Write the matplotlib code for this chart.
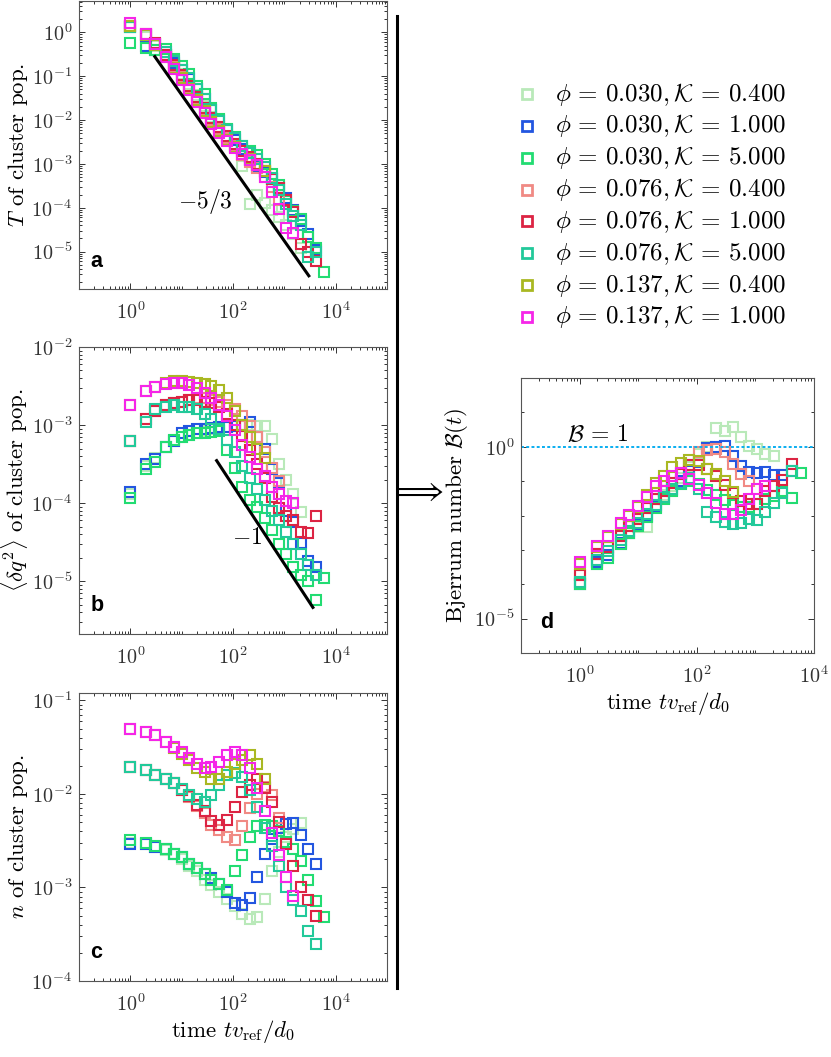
import matplotlib
matplotlib.use("Agg")
import matplotlib.pyplot as plt
import numpy as np
from matplotlib.lines import Line2D
from matplotlib.ticker import FixedLocator, LogLocator, NullFormatter

plt.rcParams['font.family'] = 'serif'
plt.rcParams['font.serif'] = ['cmr10']
plt.rcParams['mathtext.fontset'] = 'cm'
plt.rcParams['axes.formatter.use_mathtext'] = True

# time points (t v_ref / d0)
TIME = [1, 2, 3, 5, 7, 10, 14, 20, 28, 38, 54, 75, 107, 150, 210, 300, 415,
        570, 790, 1070, 1480, 2090, 2870, 4170, 5900]

labels = [r'$\phi\,=\,0.030,\mathcal{K}\,=\,0.400$',
          r'$\phi\,=\,0.030,\mathcal{K}\,=\,1.000$',
          r'$\phi\,=\,0.030,\mathcal{K}\,=\,5.000$',
          r'$\phi\,=\,0.076,\mathcal{K}\,=\,0.400$',
          r'$\phi\,=\,0.076,\mathcal{K}\,=\,1.000$',
          r'$\phi\,=\,0.076,\mathcal{K}\,=\,5.000$',
          r'$\phi\,=\,0.137,\mathcal{K}\,=\,0.400$',
          r'$\phi\,=\,0.137,\mathcal{K}\,=\,1.000$']
colors = ['#b9e9b9', '#2356e0', '#22dc72', '#f08a84', '#dc2443',
          '#22c99a', '#a9b822', '#f526e8']

# panel a: temperature T
T_vals = [
    [1.3, 0.8, 0.5, 0.3, 0.18, 0.11, 0.065, 0.038, 0.021, 0.012, 0.007, 0.0042,
     0.0026, 0.0009, 0.00012, 0.0002, 0.00013, 9e-5, 6e-5, 4e-5, 2.5e-5, 1.2e-5],
    [1.3, 0.5, 0.4, 0.3, 0.2, 0.14, 0.085, 0.05, 0.03, 0.017, 0.01, 0.006,
     0.0035, 0.0022, 0.0012, 0.00085, 0.00065, 0.00045, 0.00028, 0.00017, 9e-5,
     5e-5, 2.5e-5, 1.1e-5],
    [0.56, 0.45, 0.39, 0.41, 0.25, 0.17, 0.115, 0.06, 0.039, 0.019, 0.0105,
     0.0063, 0.0041, 0.0026, 0.002, 0.0016, 0.001, 0.0006, 0.00033, 0.00014,
     8.5e-5, 5.4e-5, 2.1e-5, 1.2e-5, 3.5e-6],
    [1.4, 0.85, 0.55, 0.3, 0.17, 0.1, 0.058, 0.032, 0.018, 0.01, 0.0062, 0.004,
     0.0026, 0.0016, 0.0011, 0.0008, 0.0005, 0.0003, 0.00015],
    [1.4, 0.9, 0.58, 0.31, 0.18, 0.105, 0.06, 0.034, 0.019, 0.011, 0.0068,
     0.0044, 0.0029, 0.002, 0.0014, 0.001, 0.0007, 0.00045, 0.00028, 0.00015,
     8e-5, 1.5e-5, 1e-5, 6.2e-6],
    [1.3, 0.85, 0.55, 0.36, 0.22, 0.14, 0.09, 0.052, 0.031, 0.017, 0.0095,
     0.0058, 0.0038, 0.0025, 0.0018, 0.0013, 0.00085, 0.00048, 0.00025, 0.00012,
     6.5e-5, 4e-5, 7.6e-6, 1.0e-5],
    [1.4, 0.85, 0.52, 0.28, 0.155, 0.09, 0.05, 0.028, 0.016, 0.009, 0.0056,
     0.0036, 0.0024, 0.0017, 0.0013, 0.00095, 0.0007],
    [1.6, 0.9, 0.54, 0.27, 0.145, 0.083, 0.048, 0.026, 0.0144, 0.0083, 0.0052,
     0.0034, 0.0023, 0.0017, 0.0012, 0.00093, 0.00051, 0.00023, 9.3e-5, 3.4e-5,
     2.7e-5],
]

# panel b: charge fluctuation <dq^2>
dq_vals = [
    [0.00013, 0.0003, 0.00038, 0.00052, 0.00062, 0.0007, 0.00075, 0.0008,
     0.00085, 0.0009, 0.00092, 0.00095, 0.00097, 0.00098, 0.001, 0.00097,
     0.00097, 0.00066, 0.00032, 0.0002, 0.00013, 7.6e-5],
    [0.00014, 0.00032, 0.00037, 0.00052, 0.00062, 0.0008, 0.00085, 0.00088,
     0.0009, 0.00092, 0.00095, 0.00095, 0.00098, 0.001, 0.0011, 0.0007,
     0.00049, 0.00027, 0.00018, 7.8e-5, 5.8e-5, 3.1e-5, 1.8e-5, 1.5e-5],
    [0.000115, 0.00027, 0.00034, 0.00053, 0.00064, 0.00071, 0.00075, 0.00078,
     0.0008, 0.00082, 0.00085, 0.00048, 0.00028, 0.00016, 0.00011, 9e-5,
     6.5e-5, 4.5e-5, 3e-5, 2.2e-5, 1.5e-5, 1.2e-5, 1e-5, 5.8e-6, 1.1e-5],
    [0.00063, 0.0012, 0.0015, 0.0018, 0.0019, 0.002, 0.0021, 0.0022, 0.0022,
     0.0021, 0.002, 0.0018, 0.0016, 0.0013, 0.00097, 0.0007, 0.00045, 0.00028,
     0.00019],
    [0.00063, 0.0012, 0.0015, 0.0018, 0.0019, 0.002, 0.0021, 0.0021, 0.002,
     0.0019, 0.0017, 0.0014, 0.001, 0.00072, 0.00048, 0.00032, 0.00021,
     0.00012, 8.6e-5, 6.8e-5, 6.1e-5, 4.3e-5, 4.1e-5, 6.8e-5],
    [0.00063, 0.0011, 0.0016, 0.0017, 0.0018, 0.0017, 0.0017, 0.0016, 0.0014,
     0.0012, 0.0009, 0.00065, 0.00045, 0.0003, 0.00021, 0.00015, 0.00011, 8e-5,
     6e-5, 4.2e-5, 3e-5, 2.2e-5, 1.6e-5, 1.2e-5],
    [0.0018, 0.0027, 0.0031, 0.0035, 0.0037, 0.0037, 0.0036, 0.0035, 0.0034,
     0.0032, 0.0028, 0.0022, 0.0015, 0.001, 0.00071, 0.0005, 0.00038],
    [0.0018, 0.0027, 0.0031, 0.0034, 0.0035, 0.0035, 0.0033, 0.003, 0.0026,
     0.0022, 0.0018, 0.0013, 0.00086, 0.00055, 0.00039, 0.00027, 0.00022,
     0.00016, 0.00013, 0.000105, 0.0001],
]

# panel c: cluster number density n
n_vals = [
    [0.003, 0.0029, 0.0027, 0.0025, 0.0023, 0.002, 0.0017, 0.0015, 0.0012,
     0.00105, 0.0009, 0.00075, 0.00063, 0.00052, 0.00046, 0.00048, 0.00075,
     0.0015, 0.0024, 0.0035, 0.0042, 0.0049],
    [0.0029, 0.0029, 0.0027, 0.0026, 0.0023, 0.0021, 0.0018, 0.0016, 0.0014,
     0.00125, 0.0011, 0.00089, 0.00068, 0.00065, 0.00077, 0.0013, 0.0023,
     0.0033, 0.0043, 0.0048, 0.0049, 0.0036, 0.0026, 0.0018],
    [0.0032, 0.003, 0.0028, 0.0026, 0.0023, 0.0021, 0.0018, 0.0016, 0.0014,
     0.0012, 0.0011, 0.00095, 0.0015, 0.0022, 0.0035, 0.0045, 0.0047, 0.0045,
     0.004, 0.0031, 0.0026, 0.0019, 0.0012, 0.00072, 0.00048],
    [0.0195, 0.018, 0.016, 0.0143, 0.013, 0.011, 0.0093, 0.0075, 0.0062,
     0.0047, 0.0041, 0.0035, 0.0032, 0.0045, 0.007, 0.01, 0.012, 0.0098,
     0.0055],
    [0.0195, 0.018, 0.016, 0.0143, 0.013, 0.011, 0.0095, 0.0076, 0.0065,
     0.0051, 0.0047, 0.0053, 0.0073, 0.0106, 0.0125, 0.0143, 0.0117, 0.0081,
     0.005, 0.0029, 0.0017, 0.001, 0.00074, 0.0005],
    [0.0195, 0.018, 0.016, 0.0143, 0.013, 0.0112, 0.0098, 0.0088, 0.0081,
     0.0098, 0.0125, 0.016, 0.0166, 0.015, 0.011, 0.0073, 0.0043, 0.0028,
     0.0017, 0.001, 0.00074, 0.00056, 0.00034, 0.00025],
    [0.05, 0.046, 0.043, 0.036, 0.031, 0.027, 0.023, 0.019, 0.017, 0.0145,
     0.0145, 0.017, 0.021, 0.023, 0.026, 0.021, 0.0145],
    [0.05, 0.046, 0.043, 0.036, 0.032, 0.028, 0.024, 0.021, 0.019, 0.0195,
     0.022, 0.026, 0.028, 0.026, 0.019, 0.0115, 0.0066, 0.0038, 0.0022, 0.0013,
     0.00081],
]

# panel d: Bjerrum number B(t)
B_vals = [
    [1e-4, 4e-4, 7e-4, 1.5e-3, 3e-3, 4.5e-3, 0.0046, 0.02, 0.04, 0.07, 0.12,
     0.25, 0.6, 1.0, 3.6, 2.9, 3.8, 1.9, 1.07, 0.85, 0.62, 0.55],
    [1e-4, 4.5e-4, 7e-4, 1.6e-3, 3e-3, 5.5e-3, 0.01, 0.018, 0.032, 0.055, 0.1,
     0.2, 0.35, 0.95, 1.0, 1.07, 0.55, 0.28, 0.18, 0.17, 0.18, 0.155, 0.155,
     0.2],
    [1e-4, 4e-4, 6e-4, 1.5e-3, 3e-3, 5e-3, 0.009, 0.017, 0.03, 0.05, 0.08, 0.1,
     0.08, 0.055, 0.04, 0.028, 0.02, 0.018, 0.018, 0.022, 0.03, 0.038, 0.05,
     0.032, 0.17],
    [1.8e-4, 7.7e-4, 1.2e-3, 2.5e-3, 5e-3, 8e-3, 0.016, 0.03, 0.05, 0.09, 0.16,
     0.3, 0.69, 0.79, 0.85, 0.69, 0.32, 0.16, 0.1],
    [1.8e-4, 7.7e-4, 1.2e-3, 2.5e-3, 5e-3, 8e-3, 0.016, 0.03, 0.05, 0.09, 0.16,
     0.3, 0.3, 0.22, 0.14, 0.075, 0.045, 0.027, 0.022, 0.022, 0.052, 0.074,
     0.107, 0.32],
    [1.2e-4, 5e-4, 9e-4, 1.9e-3, 3.5e-3, 6e-3, 0.011, 0.02, 0.035, 0.06, 0.09,
     0.12, 0.06, 0.0126, 0.0093, 0.0063, 0.0058, 0.006, 0.0079, 0.0074, 0.0126,
     0.023, 0.045, 0.2],
    [4e-4, 1.2e-3, 2.3e-3, 5.8e-3, 0.0095, 0.018, 0.04, 0.09, 0.14, 0.25, 0.33,
     0.41, 0.39, 0.22, 0.16, 0.1, 0.048],
    [4.4e-4, 1.3e-3, 2.5e-3, 6.2e-3, 0.0105, 0.0195, 0.035, 0.071, 0.1, 0.145,
     0.17, 0.115, 0.079, 0.045, 0.023, 0.011, 0.011, 0.014, 0.03, 0.059,
     0.074],
]

# guide lines (power-law slopes)
slope_a_x = [3, 3000]
slope_a_y = [0.28, 2.8e-6]
slope_b_x = [48, 3600]
slope_b_y = [3.5e-4, 4.6e-6]

W, H = 831, 1057
fig = plt.figure(figsize=(W / 100, H / 100), dpi=100)


def px_axes(l, t, r, b):
    return fig.add_axes([l / W, 1 - b / H, (r - l) / W, (b - t) / H])


ax_a = px_axes(79, 1, 387, 289)
ax_b = px_axes(79, 347, 387, 634)
ax_c = px_axes(79, 693, 387, 981)
ax_d = px_axes(521, 378, 814, 653)

tick_col = '#333333'


def style(ax, xlim, ylim, ymajor=None, decade_minor=False):
    ax.set_xscale('log')
    ax.set_yscale('log')
    ax.set_xlim(*xlim)
    ax.set_ylim(*ylim)
    ax.xaxis.set_major_locator(FixedLocator([1e0, 1e2, 1e4]))
    ax.xaxis.set_minor_locator(LogLocator(base=10, subs=np.arange(1, 10), numticks=30))
    ax.xaxis.set_minor_formatter(NullFormatter())
    if ymajor is not None:
        ax.yaxis.set_major_locator(FixedLocator(ymajor))
    else:
        ax.yaxis.set_major_locator(LogLocator(base=10, numticks=30))
    if decade_minor:
        ax.yaxis.set_minor_locator(LogLocator(base=10, subs=(1.0,), numticks=30))
    else:
        ax.yaxis.set_minor_locator(LogLocator(base=10, subs=np.arange(2, 10), numticks=30))
    ax.yaxis.set_minor_formatter(NullFormatter())
    ax.tick_params(which='both', direction='in', top=True, right=True,
                   colors=tick_col, labelsize=14.5, width=0.7)
    ax.tick_params(axis='x', which='both', pad=9)
    ax.tick_params(axis='y', which='both', pad=5)
    ax.tick_params(which='major', length=4.5)
    ax.tick_params(which='minor', length=2.2)
    for s in ax.spines.values():
        s.set_color('#555555')
        s.set_linewidth(0.8)


style(ax_a, (1e-1, 1e5), (1.4e-6, 5.2))
style(ax_b, (1e-1, 1e5), (2.1e-6, 1e-2))
style(ax_c, (1e-1, 1e5), (1e-4, 0.12))
style(ax_d, (1e-1, 1e4), (1e-6, 1e2), ymajor=[1e-5, 1e0], decade_minor=True)

mk = dict(marker='s', ms=7.5, mfc='none', mew=1.5, ls='none')
for ax, data in [(ax_a, T_vals), (ax_b, dq_vals), (ax_c, n_vals), (ax_d, B_vals)]:
    for vals, col in zip(data, colors):
        ax.plot(TIME[:len(vals)], vals, mec=col, **mk)

ax_a.plot(slope_a_x, slope_a_y, color='black', lw=2.2)
ax_a.text(29, 1.4e-4, r'$-5/3$', fontsize=17, ha='center', va='center')
ax_b.plot(slope_b_x, slope_b_y, color='black', lw=2.2)
ax_b.text(190, 3.6e-5, r'$-1$', fontsize=17, ha='center', va='center')

ax_d.axhline(1.0, color='#0aaef0', ls=(0, (1.5, 1.2)), lw=1.4)
ax_d.text(0.6, 1.08, r'$\mathcal{B}\,=\,1$', fontsize=17, ha='left', va='bottom')

lab_fs = 16.5
ax_a.set_ylabel(r'$T$ of cluster pop.', fontsize=lab_fs, labelpad=1)
ax_b.set_ylabel(r'$\langle \delta q^2 \rangle$ of cluster pop.', fontsize=lab_fs, labelpad=1)
ax_c.set_ylabel(r'$n$ of cluster pop.', fontsize=lab_fs, labelpad=1)
ax_c.set_xlabel(r'time $tv_{\rm ref}/d_0$', fontsize=lab_fs, labelpad=2)
ax_d.set_ylabel(r'Bjerrum number $\mathcal{B}(t)$', fontsize=lab_fs, labelpad=3)
ax_d.set_xlabel(r'time $tv_{\rm ref}/d_0$', fontsize=lab_fs, labelpad=2)

for ax, letter, (x, y) in [(ax_a, 'a', (0.036, 0.058)), (ax_b, 'b', (0.036, 0.064)),
                           (ax_c, 'c', (0.036, 0.064)), (ax_d, 'd', (0.065, 0.074))]:
    ax.text(x, y, letter, transform=ax.transAxes, fontsize=15.5, fontweight='bold',
            family='Liberation Sans', ha='left', va='bottom')

# legend (markers + labels) in the upper right
for i, (lab, col) in enumerate(zip(labels, colors)):
    yy = 1 - (94 + i * 31.85) / H
    fig.add_artist(Line2D([527 / W], [yy], marker='s', ms=6.5, mfc='none', mec=col,
                          mew=2.0, transform=fig.transFigure))
    fig.text(555 / W, yy, lab, fontsize=18, ha='left', va='center')

# separator and arrow
fig.add_artist(Line2D([397 / W, 397 / W], [1 - 16 / H, 1 - 988 / H], color='black',
                      lw=2.2, transform=fig.transFigure))
fig.text(417 / W, 1 - 492 / H, r'$\Longrightarrow$', fontsize=22, ha='center', va='center')

fig.savefig('out.png', dpi=100)
